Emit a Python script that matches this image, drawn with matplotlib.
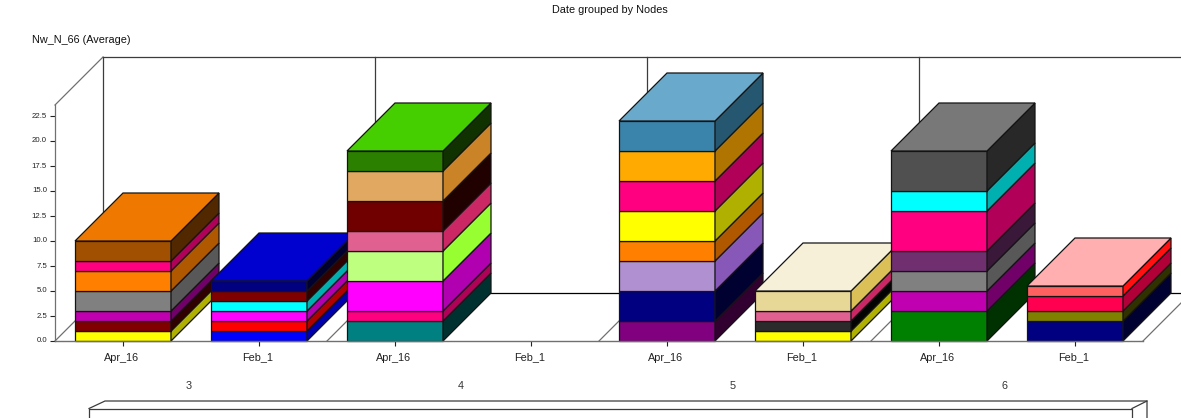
"""Stacked pseudo-3D bars: average Nw_N_66 per date, grouped by node."""

import colorsys

import matplotlib
matplotlib.use("Agg")
import matplotlib.pyplot as plt
from matplotlib.colors import to_hex, to_rgb
from matplotlib.lines import Line2D
from matplotlib.patches import Polygon
from matplotlib.transforms import ScaledTranslation

plt.rcParams["font.family"] = ["Liberation Sans", "DejaVu Sans"]

NODES = ["3", "4", "5", "6"]
DATES = ["Apr_16", "Feb_1"] * 4
Y_TICKS = [0.0, 2.5, 5.0, 7.5, 10.0, 12.5, 15.0, 17.5, 20.0, 22.5]

# segment heights, bottom to top, one list per bar
values_3_apr = [1, 1, 1, 2, 2, 1, 2]
colors_3_apr = ["#FFFF00", "#800000", "#C000B0", "#808080", "#FF8000", "#FF0080", "#A05000"]
values_3_feb = [1, 1, 1, 1, 1, 1]
colors_3_feb = ["#0000FF", "#FF0000", "#FF00FF", "#00FFFF", "#800000", "#000080"]
values_4_apr = [2, 1, 3, 3, 2, 3, 3, 2]
colors_4_apr = ["#008080", "#FF0080", "#FF00FF", "#BFFF80", "#E06090", "#700000", "#E0A860", "#2B8000"]
values_4_feb = []
colors_4_feb = []
values_5_apr = [2, 3, 3, 2, 3, 3, 3, 3]
colors_5_apr = ["#800080", "#000080", "#B090D0", "#FF8000", "#FFFF00", "#FF0080", "#FFAA00", "#3A84AC"]
values_5_feb = [1, 1, 1, 2]
colors_5_feb = ["#FFFF00", "#2B2B2B", "#E06090", "#E8D898"]
values_6_apr = [3, 2, 2, 2, 4, 2, 4]
colors_6_apr = ["#008000", "#C000B0", "#808080", "#703070", "#FF0080", "#00FFFF", "#505050"]
values_6_feb = [2, 1, 1.5, 1]
colors_6_feb = ["#000080", "#808000", "#FF0050", "#FF6060"]

BARS = [
    (values_3_apr, colors_3_apr), (values_3_feb, colors_3_feb),
    (values_4_apr, colors_4_apr), (values_4_feb, colors_4_feb),
    (values_5_apr, colors_5_apr), (values_5_feb, colors_5_feb),
    (values_6_apr, colors_6_apr), (values_6_feb, colors_6_feb),
]

W, H = 1181, 418
BAR_W = 96 / 136
DX = 48 / 136   # depth of the box, in x units
DY = 4.8        # depth of the box, in y units
Y_TOP = 23.6
X_MIN, X_MAX = -0.5, 7.5
EDGE = "#141414"
WALL = "#3c3c3c"


def _shade(color, delta):
    # side and top faces are the front colour with lightness shifted
    h, l, s = colorsys.rgb_to_hls(*to_rgb(color))
    return to_hex(colorsys.hls_to_rgb(h, min(1, max(0, l + delta)), s))


def _caixa(ax, x, values, colors):
    x0, x1 = x - BAR_W / 2, x + BAR_W / 2
    base = 0
    for val, cor in zip(values, colors):
        topo = base + val
        ax.add_patch(Polygon([(x0, base), (x1, base), (x1, topo), (x0, topo)],
                             fc=cor, ec=EDGE, lw=0.9, clip_on=False))
        ax.add_patch(Polygon([(x1, base), (x1 + DX, base + DY),
                              (x1 + DX, topo + DY), (x1, topo)],
                             fc=_shade(cor, -0.155), ec=EDGE, lw=0.9, clip_on=False))
        base = topo
    if values:
        ax.add_patch(Polygon([(x0, base), (x1, base), (x1 + DX, base + DY), (x0 + DX, base + DY)],
                             fc=_shade(colors[-1], 0.155), ec=EDGE, lw=0.9, clip_on=False))


def _paredes(ax):
    # back wall, floor and the dividers between node groups
    estilo = dict(color=WALL, lw=0.9, clip_on=False, zorder=0.5)
    fundo = X_MIN + DX
    ax.plot([fundo, X_MAX + DX], [Y_TOP + DY] * 2, **estilo)
    ax.plot([fundo, X_MAX + DX], [DY, DY], color="black", lw=0.9, clip_on=False, zorder=0.5)
    ax.plot([X_MIN, fundo], [Y_TOP, Y_TOP + DY], color="#707070", lw=0.9, clip_on=False, zorder=0.5)
    for k in range(len(NODES)):
        xk = X_MIN + 2 * k
        ax.plot([xk + DX, xk + DX], [DY, Y_TOP + DY], **estilo)
        ax.plot([xk, xk + DX], [0, DY], color="#707070", lw=0.9, clip_on=False, zorder=0.5)
    ax.plot([X_MAX, X_MAX + DX], [0, DY], color="#707070", lw=0.9, clip_on=False, zorder=0.5)


def _caixa_legenda(fig):
    # empty legend frame cut off by the bottom edge
    trechos = [
        ([89, 89, 1132, 1132], [418, 408.5, 408.5, 418]),
        ([89, 105, 1147, 1147], [408.5, 401, 401, 418]),
        ([1132, 1147], [408.5, 401]),
    ]
    for xs, ys in trechos:
        fig.add_artist(Line2D([v / W for v in xs], [1 - v / H for v in ys],
                              color=WALL, lw=0.9, transform=fig.transFigure))


def main():
    fig = plt.figure(figsize=(W / 100, H / 100), dpi=100)
    ax = fig.add_axes([55 / W, (H - 341) / H, 1088 / W, 236 / H])
    ax.set_xlim(X_MIN, X_MAX)
    ax.set_ylim(0, Y_TOP)
    ax.patch.set_visible(False)
    for lado in ("top", "right"):
        ax.spines[lado].set_visible(False)
    ax.spines["left"].set_color("#707070")
    ax.spines["left"].set_linewidth(0.9)
    ax.spines["bottom"].set_color("#707070")
    ax.spines["bottom"].set_linewidth(1.0)

    _paredes(ax)
    for i, (values, colors) in enumerate(BARS):
        _caixa(ax, i, values, colors)

    ax.set_yticks(Y_TICKS, [f"{v:.1f}" for v in Y_TICKS], fontsize=5.6, color="#222222")
    ax.set_xticks(range(len(DATES)), DATES, fontsize=7.8, color="#222222")
    ax.tick_params(axis="y", length=3.6, width=0.8, pad=2.2, color="#222222")
    ax.tick_params(axis="x", length=3.6, width=0.8, pad=10.8, color="#222222")

    # Feb_1 renders a pixel lower than Apr_16, so lift it onto the same line
    for rotulo in ax.get_xticklabels():
        rotulo.set_verticalalignment("baseline")
        sobe = 1 if rotulo.get_text() == "Feb_1" else 0
        rotulo.set_transform(rotulo.get_transform()
                             + ScaledTranslation(-1.5 / 100, sobe / 100, fig.dpi_scale_trans))
    for rotulo in ax.get_yticklabels():
        rotulo.set_transform(rotulo.get_transform()
                             + ScaledTranslation(0, 1 / 100, fig.dpi_scale_trans))

    for k, node in enumerate(NODES):
        ax.annotate(node, xy=(0.5 + 2 * k, 0), xycoords=("data", "axes fraction"),
                    xytext=(-2, -45), textcoords="offset pixels", ha="center", va="center",
                    fontsize=7.8, color="#333333", annotation_clip=False)

    fig.text(610 / W, 1 - 10 / H, "Date grouped by Nodes", ha="center", va="center",
             fontsize=7.8, color="#111111")
    fig.text(32 / W, 1 - 40 / H, "Nw_N_66 (Average)", ha="left", va="center",
             fontsize=7.8, color="#111111")
    _caixa_legenda(fig)

    fig.savefig("out.png", dpi=100)
    plt.close(fig)


main()
